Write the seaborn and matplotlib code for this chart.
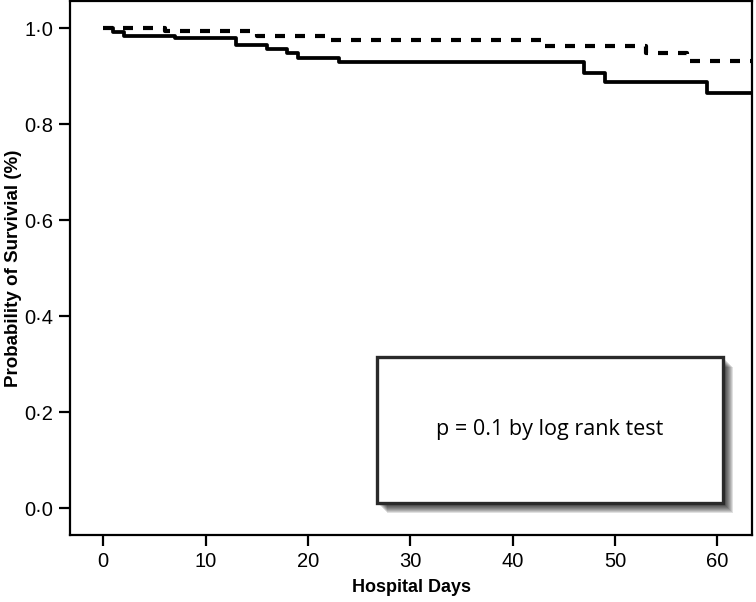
import matplotlib
matplotlib.use("Agg")
import matplotlib.pyplot as plt
import seaborn as sns
import pandas as pd
from matplotlib.patches import Rectangle
from matplotlib.ticker import FuncFormatter

# ---- data ----
solid_days = [0, 1, 2, 7, 13, 16, 18, 19, 23, 47, 49, 59, 63.5]
solid_surv = [1.0, 0.992, 0.985, 0.98, 0.965, 0.956, 0.948, 0.9375, 0.929, 0.908, 0.889, 0.865, 0.865]
dashed_days = [0, 6, 15, 22, 43, 53, 57, 63.5]
dashed_surv = [1.0, 0.995, 0.985, 0.975, 0.963, 0.948, 0.9325, 0.9325]
x_ticks = [0, 10, 20, 30, 40, 50, 60]
y_ticks = [0.0, 0.2, 0.4, 0.6, 0.8, 1.0]
annotation = "p = 0.1 by log rank test"
x_label = "Hospital Days"
y_label = "Probability of Survivial (%)"

sns.set_theme(style="white")
plt.rcParams['font.family'] = ['Liberation Sans Narrow', 'Liberation Sans', 'DejaVu Sans']

fig = plt.figure(figsize=(7.56, 6.02), dpi=100)
ax = fig.add_axes([70/756, 1 - 535/602, (752-70)/756, (535-1)/602])

df_s = pd.DataFrame({"day": solid_days, "surv": solid_surv})
df_d = pd.DataFrame({"day": dashed_days, "surv": dashed_surv})

sns.lineplot(data=df_s, x="day", y="surv", ax=ax, drawstyle="steps-post",
             color="black", linewidth=2.7, estimator=None, solid_capstyle="butt")
sns.lineplot(data=df_d, x="day", y="surv", ax=ax, drawstyle="steps-post",
             color="black", linewidth=3.0, estimator=None, dashes=False,
             linestyle=(0, (2.4, 2.4)), dash_capstyle="butt")

ax.set_xlim(-3.25, 63.4)
ax.set_ylim(-0.0556, 1.057)
ax.set_xticks(x_ticks)
ax.set_yticks(y_ticks)
ax.yaxis.set_major_formatter(FuncFormatter(lambda v, p: f"{v:.1f}".replace(".", "\u00b7")))
ax.tick_params(axis="both", which="major", direction="out", length=8, width=1.6,
               labelsize=14.5, colors="black", bottom=True, left=True, pad=4)
for sp in ax.spines.values():
    sp.set_color("black")
    sp.set_linewidth(1.6)

ax.set_xlabel(x_label, fontsize=13, fontweight="bold", va="center", color="black")
ax.set_ylabel(y_label, fontsize=13.5, fontweight="bold", va="center", color="black")
ax.xaxis.set_label_coords(0.5, (535-587)/534)
ax.yaxis.set_label_coords((14-70)/682, 0.5)

# annotation box with soft shadow
bx0, bx1 = (377-70)/682, (723-70)/682
by0, by1 = (535-503)/534, (535-357)/534
w, h = bx1 - bx0, by1 - by0
for i in range(9):
    off = 2 + i * 1.0
    ox, oy = off / 682, -off / 534
    ax.add_patch(Rectangle((bx0 + ox, by0 + oy), w, h, transform=ax.transAxes,
                           facecolor="black", edgecolor="none", alpha=0.12, zorder=4))
ax.add_patch(Rectangle((bx0, by0), w, h, transform=ax.transAxes,
                       facecolor="white", edgecolor="#2a2a2a", linewidth=2.4, zorder=5))
ax.text(bx0 + w/2, by0 + h/2, annotation, transform=ax.transAxes, ha="center", va="center",
        fontsize=15.5, family=["Open Sans", "DejaVu Sans"], color="black", zorder=6)

fig.savefig("out.png", dpi=100)
